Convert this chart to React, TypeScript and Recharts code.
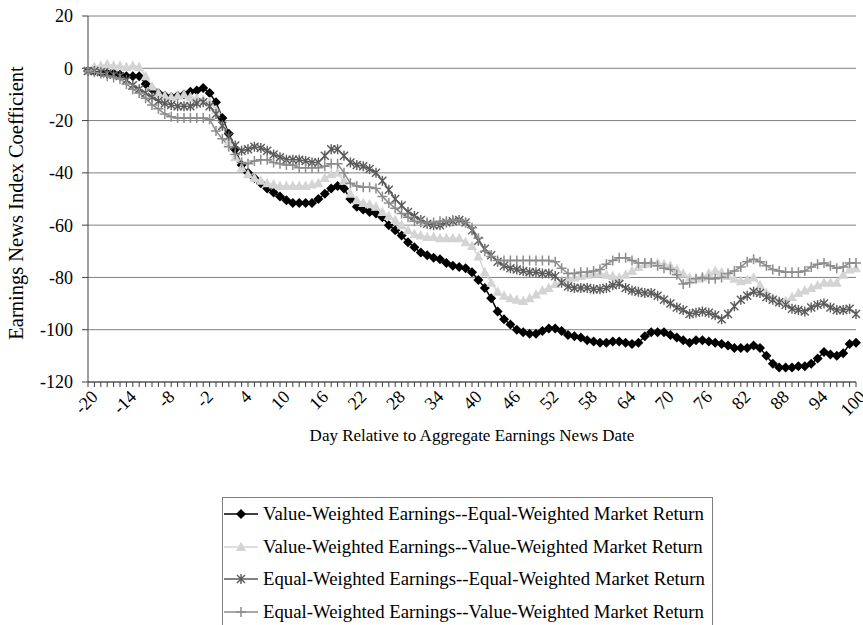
import { LineChart, Line, XAxis, YAxis, CartesianGrid } from "recharts";

// days relative to the aggregate earnings news date
const days: number[] = Array.from({ length: 121 }, (_, i) => i - 20);

const vwEw: number[] = [
  -1, -1, -1.5, -2, -2, -2.5, -3, -3, -3, -6,
  -8, -9.5, -10.5, -11, -10.5, -10, -9, -8.5, -7.5, -9.5,
  -13, -19, -25, -31, -37, -40, -42, -44, -46, -47.5,
  -49, -50.5, -51.5, -51.5, -51.5, -51.5, -50, -48, -46, -45,
  -46, -50, -53, -54, -55, -55.5, -57, -60, -62, -64,
  -66.5, -68.5, -70.5, -71.5, -72.5, -73, -74.5, -75.5, -76, -76.5,
  -78, -81, -84, -88, -93, -96, -98, -100, -101, -101.5,
  -101.5, -100.5, -99.5, -99.5, -100.5, -102, -102.5, -103, -104, -104.5,
  -105, -105, -104.5, -104.5, -105, -105.5, -105, -102.5, -101, -101,
  -101, -102, -103, -104, -105, -104, -104, -104.5, -105, -105.5,
  -106, -107, -107, -107, -106, -107, -110, -113, -114.5, -114.5,
  -114.5, -114, -114, -113, -111, -108.5, -109.5, -110, -109, -105.5,
  -105,
];

const vwVw: number[] = [
  -1, 0.5, 1, 1.5, 1, 1, 0.5, 1, 0.5, -3,
  -7, -9.5, -10.5, -11, -10.5, -10, -11, -11.5, -12, -13,
  -16, -22, -28, -34, -38, -40.5, -42, -43, -44, -44.5,
  -45, -45, -45, -45, -45, -44.5, -44, -42, -40.5, -40,
  -43, -48, -50.5, -51.5, -52, -53, -55, -56.5, -58, -60,
  -62, -63.5, -64, -64.5, -64.5, -65, -65, -65, -65, -66.5,
  -68, -72, -78, -82, -85.5, -87, -88, -88.5, -89, -88,
  -86.5, -85, -84, -82.5, -81.5, -80.5, -80, -79.5, -79, -78.5,
  -78.5, -79, -79.5, -80, -79, -77.5, -76, -75, -74.5, -74.5,
  -75, -75.5, -77, -78.5, -80, -80.5, -80, -78.5, -77.5, -78,
  -79.5, -80.5, -81.5, -81, -80, -83, -86, -88, -89, -89,
  -87.5, -86, -85, -84, -83, -82, -82, -82, -79, -77,
  -76.5,
];

const ewEw: number[] = [
  -1, -1, -1.5, -2, -2.5, -3, -4.5, -6.5, -8, -9.5,
  -11, -12.5, -13.5, -14, -14.5, -14.5, -14.5, -13.5, -13, -14.5,
  -17.5, -22, -26, -29.5, -31.5, -31, -30, -30.5, -31.5, -33,
  -34, -35, -35, -35, -35.5, -36, -36, -33.5, -31, -31,
  -33.5, -36, -37, -37.5, -38.5, -40, -43, -46.5, -50, -52.5,
  -55, -56.5, -58, -59.5, -60, -60, -59, -58.5, -58, -59,
  -62, -66, -69, -71.5, -74, -75.5, -76.5, -77, -77.5, -78,
  -78, -78.5, -78.5, -79.5, -82, -83.5, -84, -84, -84, -84.5,
  -84.5, -84, -83, -82.5, -84, -85, -85.5, -86, -86, -87,
  -88.5, -90, -91.5, -92.5, -94, -93.5, -93, -93.5, -94.5, -96,
  -94, -91, -88.5, -87, -85.5, -86, -87.5, -88.5, -89.5, -90.5,
  -92, -92.5, -93, -91.5, -90.5, -90, -91.5, -92.5, -92.5, -92,
  -94,
];

const ewVw: number[] = [
  -1, -1.5, -2, -3, -3.5, -4, -6, -8, -9.5, -11.5,
  -14, -15.5, -17.5, -18.5, -19, -19, -19, -19, -19, -19.5,
  -24, -27, -30, -33, -36, -36.5, -35.5, -35, -35, -36,
  -36.5, -37, -37, -38, -38, -38, -38, -37.5, -36.5, -36.5,
  -40, -44, -45, -45.5, -45.5, -46, -49, -51.5, -53.5, -55.5,
  -57, -58.5, -59, -59, -59, -58.5, -58.5, -58, -58, -59,
  -61, -65, -70, -72, -73.5, -73.5, -73.5, -73.5, -73.5, -73.5,
  -73.5, -73.5, -73.5, -74, -76.5, -78.5, -78.5, -78, -78, -77.5,
  -77, -75, -73.5, -72.5, -72.5, -73.5, -74.5, -74.5, -74.5, -75.5,
  -76.5, -77, -79, -82.5, -82, -80.5, -80, -80.5, -80.5, -80,
  -78.5, -77.5, -76, -74, -73, -74, -75.5, -77, -77.5, -78,
  -78, -78, -77.5, -76, -75, -74.5, -75.5, -76.5, -76, -74.5,
  -74.5,
];

const yTicks = [-120, -100, -80, -60, -40, -20, 0, 20];
const seriesNames = [
  "Value-Weighted Earnings--Equal-Weighted Market Return",
  "Value-Weighted Earnings--Value-Weighted Market Return",
  "Equal-Weighted Earnings--Equal-Weighted Market Return",
  "Equal-Weighted Earnings--Value-Weighted Market Return",
];

const data = days.map((d, i) => ({
  day: d,
  vwEw: vwEw[i],
  vwVw: vwVw[i],
  ewEw: ewEw[i],
  ewVw: ewVw[i],
}));

const FONT = "'Liberation Serif', 'Times New Roman', serif";
const C_BLACK = "#000000";
const C_LIGHT = "#d4d4d4";
const C_DARK = "#5a5a5a";
const C_MID = "#8c8c8c";

const Marker = ({ kind, cx, cy }: any) => {
  if (cx == null || cy == null) return null;
  if (kind === "diamond")
    return (
      <path
        d={`M${cx},${cy - 5}L${cx + 5},${cy}L${cx},${cy + 5}L${cx - 5},${cy}Z`}
        fill={C_BLACK}
      />
    );
  if (kind === "triangle")
    return (
      <path
        d={`M${cx},${cy - 5.5}L${cx + 5},${cy + 4}L${cx - 5},${cy + 4}Z`}
        fill={C_LIGHT}
      />
    );
  if (kind === "star")
    return (
      <path
        d={`M${cx - 4},${cy - 4}L${cx + 4},${cy + 4}M${cx - 4},${cy + 4}L${cx + 4},${cy - 4}M${cx},${cy - 5}L${cx},${cy + 5}`}
        stroke={C_DARK}
        strokeWidth={1.4}
        fill="none"
      />
    );
  return (
    <path
      d={`M${cx - 5},${cy}L${cx + 5},${cy}M${cx},${cy - 5}L${cx},${cy + 5}`}
      stroke={C_MID}
      strokeWidth={1.5}
      fill="none"
    />
  );
};

const dotOf = (kind: string) => (p: any) => (
  <Marker key={`${kind}-${p.index}`} kind={kind} cx={p.cx} cy={p.cy} />
);

const DayTick = ({ x, y, payload }: any) => {
  const v = payload.value;
  if ((v + 20) % 6 !== 0 && v !== 100) return <g />;
  const tx = x + 8;
  const ty = y + 6;
  return (
    <text
      x={tx}
      y={ty}
      textAnchor="end"
      dominantBaseline="middle"
      transform={`rotate(-45 ${tx} ${ty})`}
      fontFamily={FONT}
      fontSize={18}
      fill="#000"
    >
      {v}
    </text>
  );
};

const legendRows = [
  { name: seriesNames[0], color: C_BLACK, kind: "diamond" },
  { name: seriesNames[1], color: C_LIGHT, kind: "triangle" },
  { name: seriesNames[2], color: C_DARK, kind: "star" },
  { name: seriesNames[3], color: C_MID, kind: "plus" },
];

export default function App() {
  return (
    <div
      style={{
        position: "absolute",
        left: 0,
        top: 0,
        width: 863,
        height: 625,
        overflow: "hidden",
        background: "#fff",
        fontFamily: FONT,
      }}
    >
      <LineChart
        width={863}
        height={625}
        data={data}
        margin={{ top: 16, right: 7, bottom: 193, left: 0 }}
      >
        <CartesianGrid vertical={false} stroke="#808080" strokeWidth={1} />
        <XAxis
          dataKey="day"
          type="number"
          domain={[-20, 100]}
          ticks={days}
          interval={0}
          height={50}
          tickSize={5}
          tickMargin={2}
          stroke="#404040"
          tick={<DayTick />}
        />
        <YAxis
          type="number"
          domain={[-120, 20]}
          ticks={yTicks}
          interval={0}
          width={88}
          tickSize={6}
          tickMargin={9}
          stroke="#404040"
          tick={{ fill: "#000", fontSize: 18, fontFamily: FONT }}
        />
        <Line
          dataKey="vwEw"
          stroke={C_BLACK}
          strokeWidth={1.5}
          dot={dotOf("diamond")}
          isAnimationActive={false}
        />
        <Line
          dataKey="vwVw"
          stroke={C_LIGHT}
          strokeWidth={1.5}
          dot={dotOf("triangle")}
          isAnimationActive={false}
        />
        <Line
          dataKey="ewEw"
          stroke={C_DARK}
          strokeWidth={1.5}
          dot={dotOf("star")}
          isAnimationActive={false}
        />
        <Line
          dataKey="ewVw"
          stroke={C_MID}
          strokeWidth={1.5}
          dot={dotOf("plus")}
          isAnimationActive={false}
        />
      </LineChart>

      <div
        style={{
          position: "absolute",
          left: 16,
          top: 203,
          transform: "translate(-50%, -50%) rotate(-90deg)",
          whiteSpace: "nowrap",
          fontSize: 20.5,
        }}
      >
        Earnings News Index Coefficient
      </div>
      <div
        style={{
          position: "absolute",
          left: 472,
          top: 436,
          transform: "translate(-50%, -50%)",
          whiteSpace: "nowrap",
          fontSize: 17,
        }}
      >
        Day Relative to Aggregate Earnings News Date
      </div>

      <div
        style={{
          position: "absolute",
          left: 222,
          top: 497,
          width: 489,
          height: 140,
          border: "1px solid #808080",
        }}
      >
        {legendRows.map((r, i) => (
          <div
            key={r.name}
            style={{
              position: "absolute",
              left: 0,
              top: 3 + i * 32.5,
              height: 26,
              display: "flex",
              alignItems: "center",
              whiteSpace: "nowrap",
              fontSize: 18.8,
            }}
          >
            <svg width={36} height={26} style={{ marginRight: 4 }}>
              <line x1={1} y1={13} x2={35} y2={13} stroke={r.color} strokeWidth={1.5} />
              <Marker kind={r.kind} cx={18} cy={13} />
            </svg>
            <span>{r.name}</span>
          </div>
        ))}
      </div>
    </div>
  );
}
